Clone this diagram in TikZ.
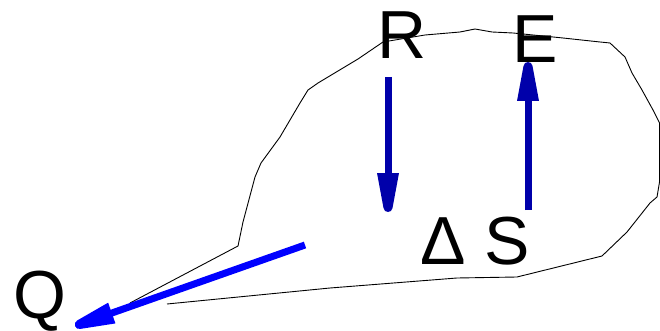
\documentclass[tikz,border=0pt]{standalone}
\usepackage{fontspec}
\setmainfont{Liberation Sans}
\usetikzlibrary{arrows.meta}
\definecolor{darkblue}{RGB}{0,0,170}
\definecolor{brightblue}{RGB}{0,0,255}
\pgfdeclarearrow{
  name=BluntHead,
  setup code={
    \pgfarrowssettipend{0pt}
    \pgfarrowssetlineend{-30pt}
    \pgfarrowssetbackend{-39pt}
    \pgfarrowssetvisualbackend{-39pt}
    \pgfarrowshullpoint{0pt}{0pt}
    \pgfarrowshullpoint{-39pt}{11pt}
    \pgfarrowshullpoint{-39pt}{-11pt}
  },
  drawing code={
    \pgfpathmoveto{\pgfpoint{-39pt}{11pt}}
    \pgfpathlineto{\pgfpoint{-39pt}{-11pt}}
    \pgfpathlineto{\pgfpoint{-4pt}{-4.5pt}}
    \pgfpathcurveto{\pgfpoint{-1.5pt}{-4pt}}{\pgfpoint{0pt}{-2.5pt}}{\pgfpoint{0pt}{0pt}}
    \pgfpathcurveto{\pgfpoint{0pt}{2.5pt}}{\pgfpoint{-1.5pt}{4pt}}{\pgfpoint{-4pt}{4.5pt}}
    \pgfpathclose
    \pgfusepathqfill
  }
}
\begin{document}
\begin{tikzpicture}[x=1pt,y=-1pt,
  lbl/.style={font=\fontsize{68}{68}\selectfont, inner sep=0pt, anchor=base},
  outline/.style={draw=black, line width=0.9pt, line join=round},
  flux/.style={line width=7pt, -{BluntHead}},
]
\useasboundingbox (0,0) rectangle (660,331);
\path[fill=white] (0,0) rectangle (660,331);
% system outline
\draw[outline] (130,303) -- (238,246) -- (243,222) -- (255,177) -- (261,163)
  -- (280,137) -- (300,103) -- (308,90) -- (318,83) -- (358,59) -- (383,42)
  -- (425,35) -- (460,32) -- (475,29) -- (492,32) -- (513,33) -- (563,38)
  -- (600,42) -- (610,43) -- (625,57) -- (632,73) -- (642,90) -- (653,110)
  -- (659.5,123) -- (659.5,182) -- (657,197) -- (650,203) -- (627,232)
  -- (602,256) -- (517,277) -- (457,278) -- (330,288) -- (167,304);
% labels
\node[lbl] (R) at (402,59) {R};
\node[lbl] (E) at (535,63) {E};
\node[lbl] (dS) at (475,264) {Δ S};
\node[lbl] (Q) at (40,318) {Q};
% arrow end points
\coordinate (rs) at (388,77);
\coordinate (rt) at (388,212);
\coordinate (es) at (528,210);
\coordinate (et) at (528,62);
\coordinate (qs) at (305,245);
\coordinate (qt) at (75,326);
\draw[flux, darkblue] (rs) -- (rt);
\draw[flux, darkblue] (es) -- (et);
\draw[flux, brightblue] (qs) -- (qt);
\end{tikzpicture}
\end{document}
